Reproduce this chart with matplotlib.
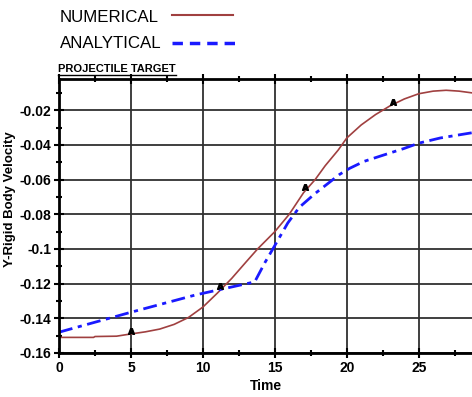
import numpy as np
import matplotlib.pyplot as plt
from matplotlib.lines import Line2D
from matplotlib.ticker import MultipleLocator

plt.rcParams['font.family'] = ['Liberation Sans', 'DejaVu Sans']

# numerical solution
num_t = [0, 1, 2.4, 2.5, 4, 5, 6, 7, 8, 9, 10, 11, 12, 13, 13.8, 15, 16, 17, 17.8,
         18.5, 19.4, 20, 21, 22, 22.5, 23, 24, 25, 26, 26.9, 27.8, 28.7]
num_v = [-0.151, -0.151, -0.151, -0.1505, -0.1503, -0.149, -0.1478, -0.1462, -0.1435, -0.1395,
         -0.1335, -0.1255, -0.117, -0.1075, -0.100, -0.090, -0.080, -0.0675, -0.060,
         -0.052, -0.043, -0.036, -0.0285, -0.0225, -0.020, -0.0175, -0.0135, -0.0105, -0.009,
         -0.0085, -0.009, -0.010]

# analytical solution
ana_t = [0, 5, 9.5, 13.6, 14.3, 15, 15.9, 16.7, 17.8, 19.5, 20.2, 21.2, 22.5, 24, 25, 26.5, 28.7]
ana_v = [-0.148, -0.1365, -0.1265, -0.119, -0.108, -0.098, -0.085, -0.076, -0.068, -0.057,
         -0.0535, -0.0495, -0.046, -0.042, -0.039, -0.036, -0.033]

# "A" symbols on the numerical curve
mark_t = [5, 11.2, 17.1, 23.2]
mark_v = [-0.1475, -0.1215, -0.0645, -0.0150]

fig = plt.figure(figsize=(4.72, 3.97), dpi=100)
ax = fig.add_axes([59 / 472, 1 - 353 / 397, 1 - 59 / 472, (353 - 79) / 397])

ax.plot(num_t, num_v, color='#a04040', lw=1.2)
ax.plot(ana_t, ana_v, color='#1a1aff', lw=2, linestyle=(0, (5, 2, 1.5, 2)))
ax.scatter(mark_t, mark_v, marker=r'$\mathbf{A}$', s=18, color='black', zorder=5)

ax.set_xlim(0, 28.7)
ax.set_ylim(-0.16, -0.002)
ax.xaxis.set_major_locator(MultipleLocator(5))
ax.xaxis.set_minor_locator(MultipleLocator(2.5))
ax.yaxis.set_major_locator(MultipleLocator(0.02))
ax.yaxis.set_minor_locator(MultipleLocator(0.01))
ax.set_yticks([-0.16, -0.14, -0.12, -0.1, -0.08, -0.06, -0.04, -0.02])
ax.set_yticklabels(['-0.16', '-0.14', '-0.12', '-0.1', '-0.08', '-0.06', '-0.04', '-0.02'])
ax.grid(True, which='major', color='#303030', lw=1.3)
ax.tick_params(which='both', direction='inout', width=1.5, labelsize=10)
ax.tick_params(which='major', length=7, pad=2)
ax.tick_params(which='minor', length=5)
ax.tick_params(axis='x', which='both', top=True)
for lab in ax.get_xticklabels() + ax.get_yticklabels():
    lab.set_fontweight('bold')
for s in ['left', 'bottom', 'top']:
    ax.spines[s].set_linewidth(2)
ax.spines['right'].set_visible(False)

ax.set_xlabel('Time', fontsize=10, fontweight='bold', labelpad=3)
ax.set_ylabel('Y-Rigid Body Velocity', fontsize=9.5, fontweight='bold')
ax.yaxis.set_label_coords(-(59 - 16) / 414, 0.56)

# legend written above the plot
fig.text(60 / 472, 1 - 17 / 397, 'NUMERICAL', fontsize=12.2, va='center', ha='left')
fig.text(60 / 472, 1 - 44 / 397, 'ANALYTICAL', fontsize=12.2, va='center', ha='left')
fig.add_artist(Line2D([172 / 472, 233 / 472], [1 - 15 / 397, 1 - 15 / 397],
                      color='#a04040', lw=1.5))
fig.add_artist(Line2D([172 / 472, 236 / 472], [1 - 43 / 397, 1 - 43 / 397],
                      color='#1a1aff', lw=2.5, linestyle=(0, (3, 2))))

fig.text(58 / 472, 1 - 69 / 397, 'PROJECTILE TARGET', fontsize=8, fontweight='bold',
         va='center', ha='left')
fig.add_artist(Line2D([58 / 472, 176 / 472], [1 - 75 / 397, 1 - 75 / 397],
                      color='black', lw=1))

fig.savefig('out.png', dpi=100)
